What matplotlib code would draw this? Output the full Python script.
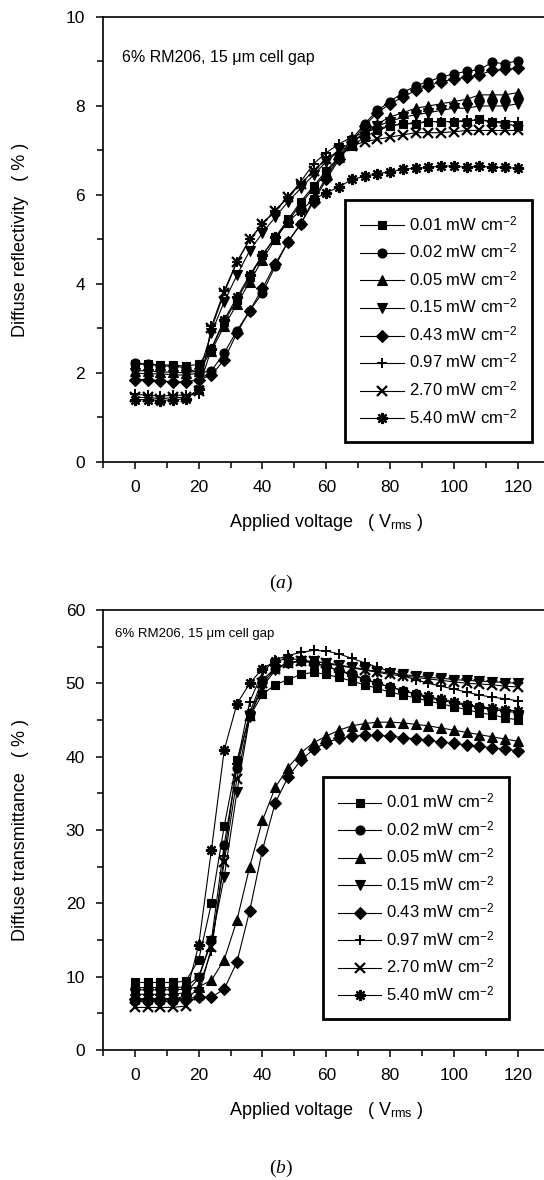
import matplotlib
matplotlib.use("Agg")
import matplotlib.pyplot as plt

plt.rcParams["font.family"] = ["Liberation Sans", "DejaVu Sans"]
plt.rcParams["mathtext.fontset"] = "custom"
plt.rcParams["mathtext.rm"] = "Liberation Sans"
plt.rcParams["mathtext.it"] = "Liberation Serif:italic"

# applied voltage (V rms), step 4 V
volts = list(range(0, 124, 4))

intensities = ["0.01", "0.02", "0.05", "0.15", "0.43", "0.97", "2.70", "5.40"]

# (a) diffuse reflectivity (%)
refl_001 = [2.20, 2.20, 2.18, 2.18, 2.15, 2.20, 2.55, 3.15, 3.65, 4.15, 4.65, 5.05, 5.45, 5.85, 6.20, 6.55,
            6.85, 7.10, 7.30, 7.45, 7.55, 7.60, 7.60, 7.65, 7.65, 7.65, 7.65, 7.70, 7.65, 7.60, 7.55]
refl_002 = [2.22, 2.20, 2.16, 2.15, 2.12, 2.00, 2.05, 2.45, 2.95, 3.40, 3.80, 4.40, 4.95, 5.35, 5.90, 6.40,
            6.85, 7.25, 7.60, 7.90, 8.10, 8.30, 8.45, 8.55, 8.65, 8.72, 8.78, 8.82, 8.98, 8.95, 9.02]
refl_005 = [2.05, 2.05, 2.02, 2.02, 2.00, 2.05, 2.50, 3.05, 3.55, 4.05, 4.55, 5.00, 5.40, 5.80, 6.15, 6.50,
            6.85, 7.15, 7.40, 7.60, 7.75, 7.85, 7.95, 8.00, 8.05, 8.10, 8.15, 8.25, 8.25, 8.25, 8.30]
refl_015 = [2.00, 1.98, 1.98, 1.96, 1.95, 2.00, 2.90, 3.60, 4.20, 4.75, 5.15, 5.50, 5.85, 6.15, 6.45, 6.75,
            7.00, 7.20, 7.40, 7.55, 7.65, 7.75, 7.80, 7.85, 7.90, 7.95, 7.95, 8.00, 8.00, 8.00, 8.05]
refl_043 = [1.85, 1.85, 1.82, 1.80, 1.80, 1.85, 1.95, 2.30, 2.90, 3.40, 3.90, 4.45, 4.95, 5.35, 5.85, 6.35,
            6.80, 7.20, 7.55, 7.85, 8.05, 8.20, 8.35, 8.45, 8.55, 8.60, 8.65, 8.70, 8.80, 8.82, 8.85]
refl_097 = [1.52, 1.50, 1.48, 1.50, 1.50, 1.52, 3.05, 3.85, 4.50, 5.00, 5.35, 5.65, 5.95, 6.30, 6.70, 6.95,
            7.15, 7.30, 7.40, 7.50, 7.55, 7.60, 7.62, 7.65, 7.65, 7.65, 7.68, 7.68, 7.65, 7.65, 7.65]
refl_270 = [1.45, 1.45, 1.42, 1.45, 1.45, 1.60, 3.00, 3.80, 4.50, 5.00, 5.35, 5.65, 5.95, 6.25, 6.55, 6.80,
            7.00, 7.10, 7.20, 7.25, 7.30, 7.35, 7.40, 7.40, 7.40, 7.42, 7.45, 7.45, 7.45, 7.45, 7.45]
refl_540 = [1.40, 1.40, 1.38, 1.40, 1.42, 1.65, 2.55, 3.20, 3.70, 4.20, 4.65, 5.05, 5.40, 5.65, 5.90, 6.05,
            6.18, 6.35, 6.42, 6.48, 6.52, 6.58, 6.60, 6.62, 6.65, 6.65, 6.62, 6.65, 6.62, 6.62, 6.60]

# (b) diffuse transmittance (%)
trans_001 = [9.2, 9.2, 9.2, 9.2, 9.4, 12.3, 20.0, 30.5, 39.5, 45.5, 48.5, 49.8, 50.5, 51.2, 51.5, 51.2,
             50.8, 50.3, 49.8, 49.3, 48.8, 48.4, 48.0, 47.6, 47.2, 46.8, 46.4, 46.0, 45.7, 45.3, 45.0]
trans_002 = [8.5, 8.5, 8.5, 8.5, 8.6, 10.0, 15.0, 28.0, 38.5, 46.0, 50.5, 52.0, 52.8, 53.0, 52.8, 52.3,
             51.8, 51.2, 50.6, 50.0, 49.5, 49.0, 48.5, 48.0, 47.7, 47.3, 47.0, 46.7, 46.4, 46.2, 46.0]
trans_005 = [8.2, 8.2, 8.2, 8.2, 8.3, 8.6, 9.5, 12.3, 17.7, 25.0, 31.3, 35.8, 38.5, 40.5, 41.9, 42.8,
             43.6, 44.2, 44.5, 44.7, 44.7, 44.6, 44.4, 44.2, 43.9, 43.6, 43.3, 43.0, 42.7, 42.4, 42.1]
trans_015 = [7.6, 7.6, 7.6, 7.6, 7.8, 9.8, 14.8, 23.6, 35.2, 45.4, 49.5, 51.8, 52.8, 53.0, 53.0, 52.8,
             52.5, 52.2, 51.9, 51.6, 51.4, 51.2, 51.0, 50.8, 50.7, 50.5, 50.4, 50.3, 50.2, 50.1, 50.0]
trans_043 = [7.0, 7.0, 7.0, 7.0, 7.0, 7.2, 7.2, 8.3, 12.0, 19.0, 27.3, 33.7, 37.2, 39.5, 41.0, 41.9,
             42.5, 42.8, 42.9, 42.9, 42.8, 42.6, 42.4, 42.2, 42.0, 41.8, 41.6, 41.4, 41.2, 41.0, 40.8]
trans_097 = [6.6, 6.6, 6.6, 6.6, 6.8, 8.5, 13.5, 26.5, 39.0, 47.5, 51.5, 53.2, 53.8, 54.2, 54.5, 54.4,
             54.0, 53.4, 52.8, 52.2, 51.6, 51.0, 50.5, 50.0, 49.6, 49.2, 48.8, 48.4, 48.1, 47.9, 47.6]
trans_270 = [5.8, 5.8, 5.8, 5.8, 6.0, 7.5, 14.0, 25.6, 37.0, 45.5, 50.0, 52.0, 52.8, 53.0, 53.0, 52.7,
             52.4, 52.1, 51.8, 51.5, 51.2, 51.0, 50.8, 50.6, 50.4, 50.2, 50.0, 49.9, 49.8, 49.6, 49.5]
trans_540 = [6.8, 6.8, 6.8, 6.8, 7.5, 14.3, 27.3, 40.9, 47.2, 50.0, 52.0, 53.0, 53.4, 53.2, 52.8, 52.3,
             51.7, 51.1, 50.5, 50.0, 49.5, 49.0, 48.6, 48.2, 47.8, 47.5, 47.1, 46.8, 46.6, 46.4, 46.2]

refl = [refl_001, refl_002, refl_005, refl_015, refl_043, refl_097, refl_270, refl_540]
trans = [trans_001, trans_002, trans_005, trans_015, trans_043, trans_097, trans_270, trans_540]

markers = ["s", "o", "^", "v", "D", "+", "x", (8, 2, 0)]
msizes = [6, 6.5, 7, 7, 6, 7, 6.5, 8]
mews = [0.8, 0.8, 0.8, 0.8, 0.8, 1.4, 1.6, 1.6]


def draw(ax, data, ymax, ystep, ylabel, note, note_size, note_xy, leg_anchor):
    for i, ys in enumerate(data):
        ax.plot(volts, ys, color="black", lw=0.8, marker=markers[i], ms=msizes[i],
                mew=mews[i], mfc="black", mec="black",
                label=intensities[i] + " mW cm$^{-2}$")
    ax.set_xlim(-10, 130)
    ax.set_ylim(0, ymax)
    ax.set_xticks(range(0, 121, 20))
    ax.set_xticks(range(-10, 130, 10), minor=True)
    ax.set_yticks([v * ystep for v in range(0, int(ymax / ystep) + 1)])
    ax.set_yticks([v * ystep / 2 for v in range(1, int(2 * ymax / ystep), 2)], minor=True)
    ax.tick_params(which="both", direction="out", width=1.1, labelsize=12.5)
    ax.tick_params(which="major", length=5, pad=8)
    ax.tick_params(which="minor", length=4)
    ax.tick_params(axis="x", which="both", top=False)
    for s in ["left", "bottom", "top"]:
        ax.spines[s].set_linewidth(1.2)
    ax.spines["right"].set_visible(False)
    ax.set_xlabel("Applied voltage   ( V$_{\\rm rms}$ )", fontsize=13, labelpad=12)
    ax.set_ylabel(ylabel, fontsize=13, labelpad=26)
    ax.text(note_xy[0], note_xy[1], note, transform=ax.transAxes, fontsize=note_size,
            va="center")
    leg = ax.legend(loc="lower right", bbox_to_anchor=leg_anchor, fontsize=12,
                    handlelength=2.6, handletextpad=0.3, labelspacing=0.5,
                    borderpad=0.9, borderaxespad=0, fancybox=False,
                    edgecolor="black", framealpha=1)
    leg.get_frame().set_linewidth(2.0)


fig = plt.figure(figsize=(5.44, 11.8), dpi=100)
ax_a = fig.add_axes([0.1893, 0.6085, 0.821, 0.3771])
ax_b = fig.add_axes([0.1893, 0.1102, 0.821, 0.3729])

draw(ax_a, refl, 10, 2, "Diffuse reflectivity   ( % )",
     "6% RM206, 15 \u03bcm cell gap", 11.5, (0.043, 0.91), (0.96, 0.045))
draw(ax_b, trans, 60, 10, "Diffuse transmittance   ( % )",
     "6% RM206, 15 \u03bcm cell gap", 9.5, (0.027, 0.945), (0.91, 0.07))

fig.text(0.517, 1 - 583 / 1180, "($\\mathit{a}$)", ha="center", va="center",
         fontsize=14, family="Liberation Serif")
fig.text(0.517, 1 - 1168 / 1180, "($\\mathit{b}$)", ha="center", va="center",
         fontsize=14, family="Liberation Serif")

fig.savefig("out.png", dpi=100)
